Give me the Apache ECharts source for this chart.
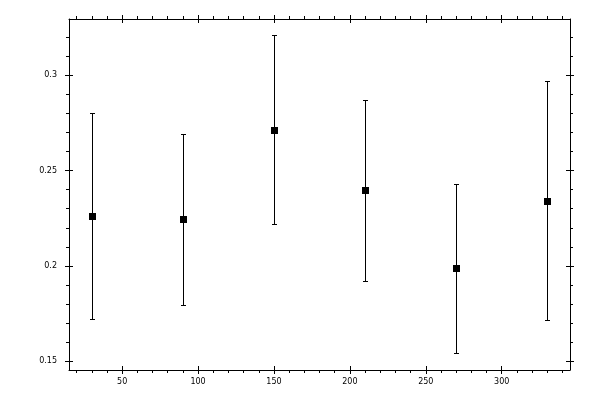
<!DOCTYPE html>
<html>
<head>
<meta charset="utf-8">
<script src="https://cdn.jsdelivr.net/npm/echarts@6/dist/echarts.min.js"></script>
<style>
html, body { margin: 0; padding: 0; background: #fff; }
#container { width: 600px; height: 400px; }
</style>
</head>
<body>
<div id="container"></div>
<script>
// data points (x, mean, error bar ends)
var xValues = [30, 90, 150, 210, 270, 330];
var means = [0.2261, 0.2246, 0.2712, 0.2397, 0.1988, 0.2339];
var upper = [0.2804, 0.2694, 0.3210, 0.2869, 0.2428, 0.2969];
var lower = [0.1720, 0.1794, 0.2219, 0.1921, 0.1542, 0.1717];

// ticks
var xMajorTicks = [50, 100, 150, 200, 250, 300];
var xMinorTicks = [20, 30, 40, 60, 70, 80, 90, 110, 120, 130, 140, 160, 170, 180, 190,
    210, 220, 230, 240, 260, 270, 280, 290, 310, 320, 330, 340];
var yMajorTicks = [0.15, 0.2, 0.25, 0.3];
var yMinorTicks = [0.16, 0.17, 0.18, 0.19, 0.21, 0.22, 0.23, 0.24, 0.26, 0.27, 0.28, 0.29, 0.31, 0.32];

var xMin = 15, xMax = 345;
var yMin = 0.1454, yMax = 0.3295;

var labelFont = {
    color: '#000',
    fontFamily: 'DejaVu Sans',
    fontSize: 8
};

// one axis per tick family, all sitting on the same edge
function xAx(pos, ticks, len, inside, line, labels) {
    return {
        type: 'value', position: pos, min: xMin, max: xMax,
        axisLine: { show: line, onZero: false, lineStyle: { color: '#000', width: 1 } },
        axisTick: { show: true, customValues: ticks, length: len, inside: inside, lineStyle: { color: '#000', width: 1 } },
        axisLabel: labels ? Object.assign({ show: true, customValues: ticks, margin: 8 }, labelFont) : { show: false },
        splitLine: { show: false }
    };
}
function yAx(pos, ticks, len, inside, line, labels) {
    return {
        type: 'value', position: pos, min: yMin, max: yMax,
        axisLine: { show: line, onZero: false, lineStyle: { color: '#000', width: 1 } },
        axisTick: { show: true, customValues: ticks, length: len, inside: inside, lineStyle: { color: '#000', width: 1 } },
        axisLabel: labels ? Object.assign({ show: true, customValues: ticks, margin: 12 }, labelFont) : { show: false },
        splitLine: { show: false }
    };
}

var bars = [];
for (var i = 0; i < xValues.length; i++) {
    bars.push([xValues[i], lower[i], upper[i], means[i]]);
}

var dom = document.getElementById('container');
var myChart = echarts.init(dom, null, { renderer: 'canvas' });

var option = {
    animation: false,
    backgroundColor: '#fff',
    grid: { left: 69, right: 30, top: 19, bottom: 30 },
    xAxis: [
        xAx('bottom', xMajorTicks, 4, false, true, true),
        xAx('bottom', xMajorTicks, 4, true, false, false),
        xAx('bottom', xMinorTicks, 3, false, false, false),
        xAx('top', xMajorTicks, 4, false, true, false),
        xAx('top', xMajorTicks, 4, true, false, false),
        xAx('top', xMinorTicks, 3, false, false, false)
    ],
    yAxis: [
        yAx('left', yMajorTicks, 4, false, true, true),
        yAx('left', yMajorTicks, 4, true, false, false),
        yAx('left', yMinorTicks, 3, false, false, false),
        yAx('right', yMajorTicks, 4, false, true, false),
        yAx('right', yMajorTicks, 4, true, false, false),
        yAx('right', yMinorTicks, 3, false, false, false)
    ],
    series: [{
        type: 'custom',
        xAxisIndex: 0,
        yAxisIndex: 0,
        data: bars,
        renderItem: function (params, api) {
            var lo = api.coord([api.value(0), api.value(1)]);
            var hi = api.coord([api.value(0), api.value(2)]);
            var mid = api.coord([api.value(0), api.value(3)]);
            var x = Math.round(lo[0]) + 0.5;
            var yLo = Math.round(lo[1]) + 0.5;
            var yHi = Math.round(hi[1]) + 0.5;
            var yMid = Math.round(mid[1]) + 0.5;
            var cap = 2.5;
            var style = { stroke: '#000', lineWidth: 1 };
            return {
                type: 'group',
                children: [
                    { type: 'line', shape: { x1: x, y1: yLo, x2: x, y2: yHi }, style: style },
                    { type: 'line', shape: { x1: x - cap, y1: yLo, x2: x + cap, y2: yLo }, style: style },
                    { type: 'line', shape: { x1: x - cap, y1: yHi, x2: x + cap, y2: yHi }, style: style },
                    { type: 'rect', shape: { x: x - 3.5, y: yMid - 3.5, width: 7, height: 7 }, style: { fill: '#000' } }
                ]
            };
        },
        z: 2
    }]
};

myChart.setOption(option);
</script>
</body>
</html>
